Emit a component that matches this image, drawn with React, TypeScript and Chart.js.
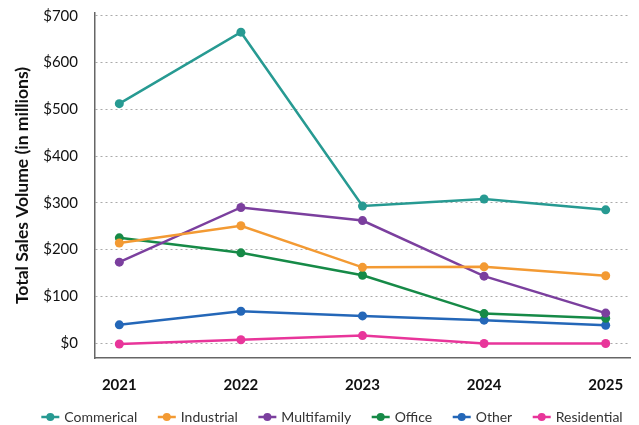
import React, { useEffect, useRef } from "react";
import { Chart, registerables } from "chart.js";

Chart.register(...registerables);

const years = [2021, 2022, 2023, 2024, 2025];
const seriesNames = ["Commerical", "Industrial", "Multifamily", "Office", "Other", "Residential"];
const commercial = [512, 665, 293, 308, 285];
const industrial = [214, 251, 162, 163, 144];
const multifamily = [173, 290, 262, 143, 64];
const office = [225, 193, 145, 63, 53];
const other = [39, 68, 58, 49, 38];
const residential = [-2, 7, 16, -1, -1];
const yTicks = [0, 100, 200, 300, 400, 500, 600, 700];
const colors = ["#279a92", "#f39a33", "#7b3f9e", "#168a47", "#2467b8", "#e8359a"];

const legendPlugin = {
  id: "lineDotLegend",
  afterDraw(chart: any) {
    const ctx = chart.ctx;
    ctx.save();
    ctx.font = "14px Lato";
    const markerW = 18;
    const gap = 5;
    const spacing = 20.5;
    const widths = seriesNames.map((n) => ctx.measureText(n).width);
    const total =
      widths.reduce((a, b) => a + b, 0) + seriesNames.length * (markerW + gap) + (seriesNames.length - 1) * spacing;
    const cx = 332;
    const cy = 417;
    let x = cx - total / 2;
    seriesNames.forEach((name, i) => {
      const c = colors[i];
      ctx.strokeStyle = c;
      ctx.fillStyle = c;
      ctx.lineWidth = 2.5;
      ctx.beginPath();
      ctx.moveTo(x, cy);
      ctx.lineTo(x + markerW, cy);
      ctx.stroke();
      ctx.beginPath();
      ctx.arc(x + markerW / 2, cy, 4, 0, Math.PI * 2);
      ctx.fill();
      ctx.fillStyle = "#333";
      ctx.textBaseline = "middle";
      ctx.textAlign = "left";
      ctx.fillText(name, x + markerW + gap, cy);
      x += markerW + gap + widths[i] + spacing;
    });
    ctx.restore();
  },
};

export default function App() {
  const ref = useRef<HTMLCanvasElement>(null);
  useEffect(() => {
    const all = [commercial, industrial, multifamily, office, other, residential];
    const chart = new Chart(ref.current!, {
      type: "line",
      data: {
        datasets: all.map((vals, i) => ({
          label: seriesNames[i],
          data: vals.map((v, j) => ({ x: years[j], y: v })),
          borderColor: colors[i],
          backgroundColor: colors[i],
          borderWidth: 2.5,
          pointRadius: 4.5,
          pointBackgroundColor: colors[i],
          pointBorderWidth: 0,
          tension: 0,
        })),
      },
      plugins: [legendPlugin],
      options: {
        animation: false,
        responsive: false,
        maintainAspectRatio: false,
        layout: { autoPadding: false, padding: { left: 0, right: 9, top: 13, bottom: 22 } },
        plugins: {
          tooltip: { enabled: false },
          legend: { display: false },
        },
        scales: {
          x: {
            type: "linear",
            min: 2020.8,
            max: 2025.2,
            afterBuildTicks: (axis: any) => {
              axis.ticks = years.map((y) => ({ value: y }));
            },
            afterFit: (axis: any) => {
              axis.height = 45;
              axis.paddingLeft = 0;
              axis.paddingRight = 0;
            },
            grid: { display: false, drawTicks: false },
            border: { display: true, color: "#666", width: 1.5 },
            ticks: {
              padding: 18,
              color: "#111",
              font: { family: "Lato", size: 15, weight: "bold" },
              callback: (v: any) => String(v),
            },
          },
          y: {
            min: -32,
            max: 706,
            afterBuildTicks: (axis: any) => {
              axis.ticks = yTicks.map((v) => ({ value: v }));
            },
            afterFit: (axis: any) => {
              axis.width = 95;
              axis.paddingTop = 0;
              axis.paddingBottom = 0;
            },
            grid: {
              drawTicks: false,
              color: "#aaa",
              lineWidth: 1,
            },
            border: { display: true, color: "#666", width: 1.5, dash: [2, 3] } as any,
            ticks: {
              padding: 17,
              color: "#111",
              font: { family: "Lato", size: 15 },
              callback: (v: any) => "$" + v,
            },
            title: {
              display: true,
              text: "Total Sales Volume (in millions)",
              color: "#111",
              font: { family: "Lato", size: 17.5, weight: "bold" },
              padding: { top: 12, bottom: 0 },
            },
          },
        },
      },
    } as any);
    return () => chart.destroy();
  }, []);
  return (
    <div style={{ position: "fixed", left: 0, top: 0, width: 639, height: 425, background: "#fff" }}>
      <canvas ref={ref} width={639} height={425} style={{ width: 639, height: 425 }} />
    </div>
  );
}
